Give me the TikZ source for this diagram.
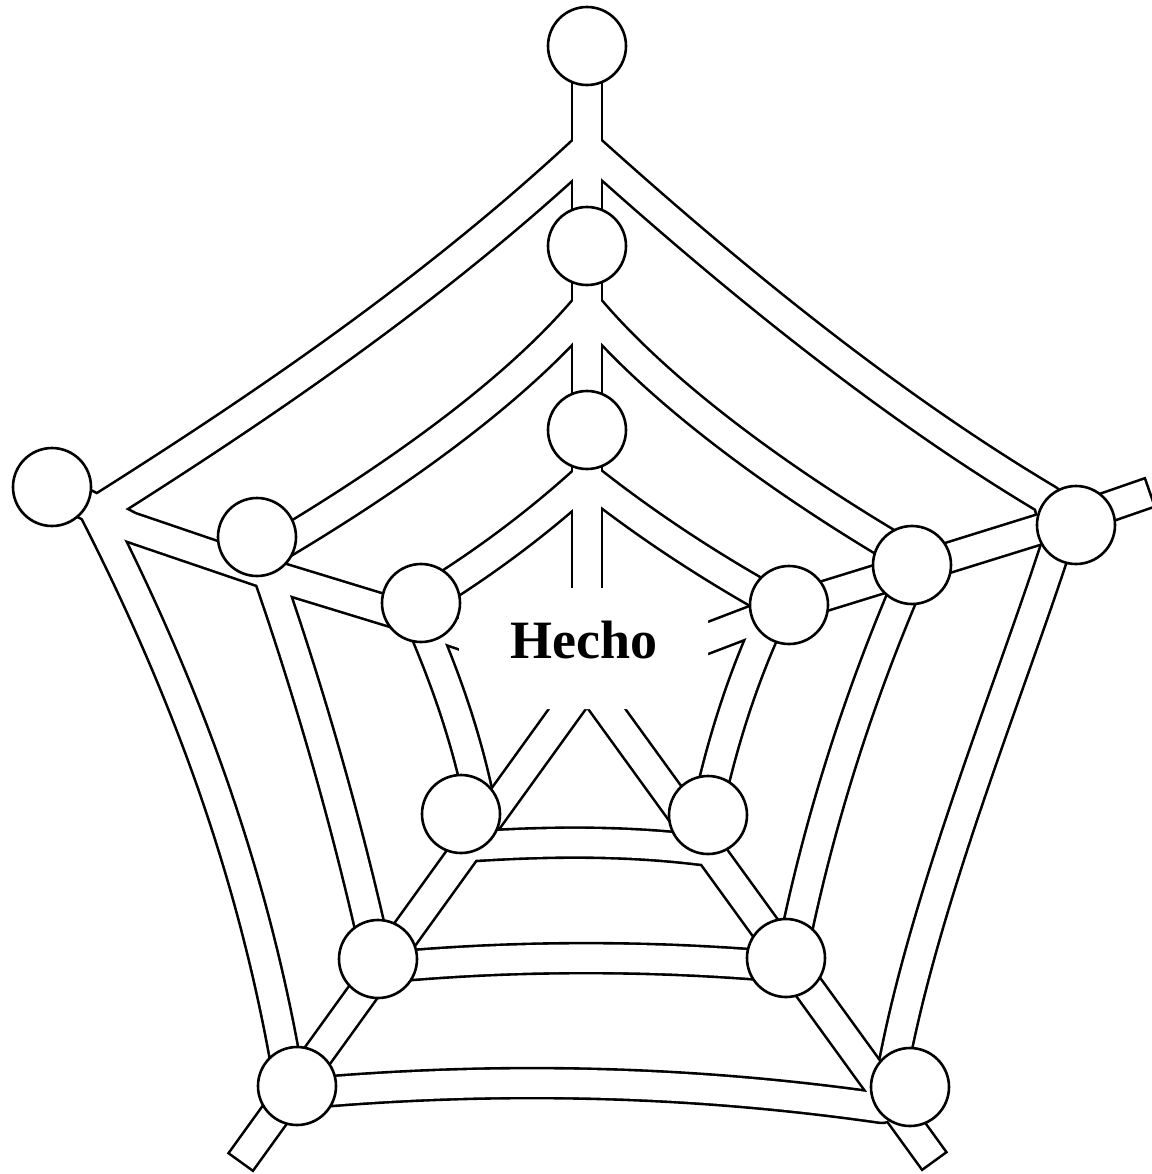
\documentclass[tikz,border=0pt]{standalone}
\usepackage{fontspec}
\setmainfont{Liberation Serif}
\pgfdeclarelayer{web}
\pgfsetlayers{web,main}

% spokes and rings, drawn twice: dark band first, then light core
\newcommand{\webthreads}[2]{%
  \draw[#1] (t0.center) -- (tend);
  \draw[#1] (l0.center) -- (jl0) -- (jl1) -- (jl2) -- (lend);
  \draw[#1,#2] (rout) -- (jr0) -- (jr1) -- (jr2) -- (rend);
  \draw[#1,#2] (blout) -- (blend);
  \draw[#1,#2] (brout) -- (brend);
  % outer ring
  \draw[#1] (jt0) .. controls (439,285) and (273,400) .. (ol)
    .. controls (194,706) and (258,892) .. (obl) -- (obl2)
    .. controls (492,1076) and (687,1080) .. (obr2) -- (obr)
    .. controls (915,920) and (1010,690) .. (orb) -- (ora)
    .. controls (885,403) and (728,274) .. (jt0) -- cycle;
  % middle ring
  \draw[#1] (jt1) .. controls (510,398) and (378,487) .. (ml) -- (ml2)
    .. controls (309,691) and (346,820) .. (mbl) -- (mbl2)
    .. controls (514,955) and (650,955) .. (mbr2) -- (mbr)
    .. controls (820,820) and (857,703) .. (mr2) -- (mr)
    .. controls (792,487) and (664,398) .. (jt1) -- cycle;
  % inner ring
  \draw[#1] (jt2) .. controls (541,520) and (492,557) .. (il) -- (il2)
    .. controls (443,672) and (464,730) .. (ibl) -- (ibl2)
    .. controls (555,841) and (629,841) .. (ibr2) -- (ibr)
    .. controls (725,735) and (742,682) .. (ir2) -- (ir)
    .. controls (706,564) and (645,524) .. (jt2) -- cycle;
}

\begin{document}
\begin{tikzpicture}[x=0.5pt, y=-0.5pt,
  knot/.style={circle, draw, fill=white, line width=1.3pt, inner sep=0pt, minimum size=39pt},
  thread/.style={line width=16.3pt, line join=round},
  threadcore/.style={line width=13.7pt, line join=round, white}]
  \useasboundingbox (0,0) rectangle (1152,1174);

  % knots
  \node[knot] (t0) at (587,46) {};
  \node[knot] (t1) at (587,246) {};
  \node[knot] (t2) at (587,430) {};
  \node[knot] (l0) at (52,487) {};
  \node[knot] (l1) at (257,537) {};
  \node[knot] (l2) at (421,603) {};
  \node[knot] (r0) at (1076,525) {};
  \node[knot] (r1) at (912,565) {};
  \node[knot] (r2) at (789,605) {};
  \node[knot] (bl2) at (461,814) {};
  \node[knot] (br2) at (708,815) {};
  \node[knot] (bl1) at (378,959) {};
  \node[knot] (br1) at (786,958) {};
  \node[knot] (bl0) at (297,1086) {};
  \node[knot] (br0) at (910,1087) {};

  % spokes
  \coordinate (tend) at (587,588);
  \coordinate (jt0) at (587,147);
  \coordinate (jt1) at (587,306);
  \coordinate (jt2) at (587,478);
  \coordinate (jl0) at (130,527);
  \coordinate (jl1) at (268,574);
  \coordinate (jl2) at (425,622);
  \coordinate (lend) at (466,636);
  \coordinate (rout) at (1151,492);
  \coordinate (jr0) at (1076,518);
  \coordinate (jr1) at (912,569);
  \coordinate (jr2) at (789,607);
  \coordinate (rend) at (700,641);
  \coordinate (blout) at (240,1163);
  \coordinate (blend) at (581,690);
  \coordinate (brout) at (935,1162);
  \coordinate (brend) at (593,690);
  % ring ends
  \coordinate (ol) at (95,512);
  \coordinate (obl) at (290,1088);
  \coordinate (obl2) at (297,1094);
  \coordinate (obr2) at (882,1108);
  \coordinate (obr) at (888,1098);
  \coordinate (orb) at (1058,540);
  \coordinate (ora) at (1048,500);
  \coordinate (ml) at (275,548);
  \coordinate (ml2) at (265,565);
  \coordinate (mbl) at (375,950);
  \coordinate (mbl2) at (378,968);
  \coordinate (mbr2) at (786,967);
  \coordinate (mbr) at (795,940);
  \coordinate (mr2) at (905,590);
  \coordinate (mr) at (895,548);
  \coordinate (il) at (440,590);
  \coordinate (il2) at (418,615);
  \coordinate (ibl) at (478,795);
  \coordinate (ibl2) at (476,846);
  \coordinate (ibr2) at (702,850);
  \coordinate (ibr) at (712,790);
  \coordinate (ir2) at (765,630);
  \coordinate (ir) at (770,600);

  \begin{pgfonlayer}{web}
    \webthreads{thread}{}
    \webthreads{threadcore}{shorten <=1.3pt}
    \fill[white] (459,596) -- (708,596) -- (708,709) -- (480,709) -- (459,660) -- cycle;
  \end{pgfonlayer}

  \node[font=\fontsize{27pt}{32pt}\selectfont\bfseries] (fact) at (584,640) {Hecho};
\end{tikzpicture}
\end{document}
